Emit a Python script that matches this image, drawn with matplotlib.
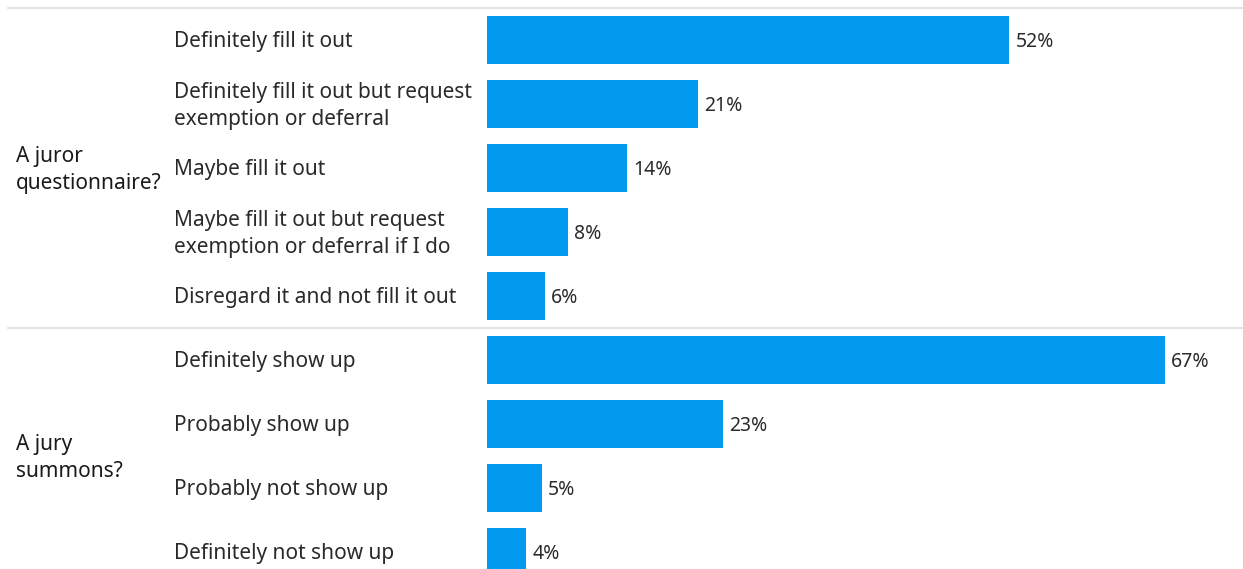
import matplotlib
matplotlib.use("Agg")
import matplotlib.pyplot as plt
from matplotlib.transforms import blended_transform_factory, offset_copy
from matplotlib.lines import Line2D

groups = ["A juror\nquestionnaire?", "A jury\nsummons?"]
group_sizes = [5, 4]
categories = [
    "Definitely fill it out",
    "Definitely fill it out but request\nexemption or deferral",
    "Maybe fill it out",
    "Maybe fill it out but request\nexemption or deferral if I do",
    "Disregard it and not fill it out",
    "Definitely show up",
    "Probably show up",
    "Probably not show up",
    "Definitely not show up",
]
values = [51.7, 20.9, 13.9, 8.0, 5.7, 67.1, 23.4, 5.4, 3.9]

W, H = 1243, 569
fig = plt.figure(figsize=(W / 100, H / 100), dpi=100)
plt.rcParams['font.family'] = ['Noto Sans', 'DejaVu Sans']

ax_left, ax_right, ax_top, ax_bot = 487, 1243, 8, 584
ax = fig.add_axes([ax_left / W, (H - ax_bot) / H, (ax_right - ax_left) / W, (ax_bot - ax_top) / H])
n = len(values)
ypos = list(range(n))
bar_color = "#039BEF"
ax.barh(ypos, values, height=0.75, color=bar_color)
ax.set_ylim(n - 0.5, -0.5)
ax.set_xlim(0, (ax_right - ax_left) / 10.1)
ax.axis("off")

fs = 15
for y, v in zip(ypos, values):
    ax.annotate(f"{round(v):d}%", (v, y), xytext=(4.5, -1.5), textcoords="offset points",
                va="center", ha="left", fontsize=14, color="#2a2a2a")

tr0 = blended_transform_factory(fig.transFigure, ax.transData)
tr = offset_copy(tr0, fig=fig, x=0, y=-2, units="dots")
for y, c in zip(ypos, categories):
    fig.text(174 / W, y, c, transform=tr, ha="left", va="center", fontsize=fs,
             color="#2a2a2a", linespacing=1.35)

start = 0
for g, s in zip(groups, group_sizes):
    center = start + (s - 1) / 2
    fig.text(16 / W, center, g, transform=tr, ha="left", va="center", fontsize=fs,
             color="#1a1a1a", fontweight="semibold", linespacing=1.35)
    fig.add_artist(Line2D([8 / W, 1.0], [start - 0.5, start - 0.5], transform=tr0,
                          color="#dddddd", lw=1.2))
    start += s

fig.savefig("out.png", dpi=100)
